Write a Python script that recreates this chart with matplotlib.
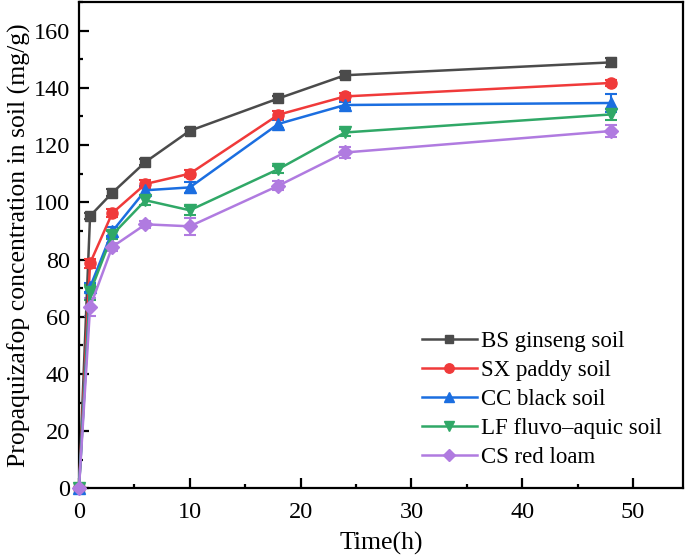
import matplotlib
matplotlib.use("Agg")
import matplotlib.pyplot as plt
from matplotlib.ticker import MultipleLocator

plt.rcParams['font.family'] = ['Liberation Serif', 'DejaVu Serif']
plt.rcParams['mathtext.fontset'] = 'stix'

time_h = [0, 1, 3, 6, 10, 18, 24, 48]

# concentrations (mg/g) and standard errors
bs_vals = [0, 95.2, 103.3, 114.1, 125.0, 136.3, 144.4, 148.9]
bs_err = [0, 1.2, 1.2, 1.0, 1.0, 1.0, 1.0, 1.5]
sx_vals = [0, 78.7, 96.2, 106.4, 110.0, 130.6, 137.0, 141.7]
sx_err = [0, 1.5, 1.3, 1.3, 1.2, 1.3, 1.2, 1.0]
cc_vals = [0, 70.3, 89.8, 104.2, 105.2, 127.4, 134.0, 134.7]
cc_err = [0, 1.5, 1.5, 1.5, 2.0, 1.5, 1.2, 3.0]
lf_vals = [0, 68.5, 88.6, 100.7, 97.2, 111.6, 124.4, 130.7]
lf_err = [0, 2.5, 1.5, 1.5, 1.5, 1.2, 1.3, 2.0]
cs_vals = [0, 63.4, 84.4, 92.3, 91.6, 105.8, 117.4, 124.9]
cs_err = [0, 3.0, 1.5, 1.2, 3.0, 1.5, 2.0, 2.0]

labels = ['BS ginseng soil', 'SX paddy soil', 'CC black soil',
          'LF fluvo\u2013aquic soil', 'CS red loam']
series = [bs_vals, sx_vals, cc_vals, lf_vals, cs_vals]
errors = [bs_err, sx_err, cc_err, lf_err, cs_err]
colors = ['#4b4b4b', '#f03a3a', '#1b6ee0', '#30a867', '#b07be0']
markers = ['s', 'o', '^', 'v', 'D']
msizes = [7.5, 8, 8.5, 8.5, 7]

fig = plt.figure(figsize=(6.85, 5.56), dpi=100)
ax = fig.add_axes([0.1153, 0.1216, 0.8817, 0.8748])

for vals, err, c, m, ms, lab in zip(series, errors, colors, markers, msizes, labels):
    # error bars first, line + markers on top (legend uses the line only)
    ax.errorbar(time_h, vals, yerr=err, fmt='none', ecolor=c,
                elinewidth=1.5, capsize=4, capthick=1.5, clip_on=False)
    ax.plot(time_h, vals, color=c, marker=m, markersize=ms,
            linewidth=1.8, label=lab, clip_on=False, zorder=3)

ax.set_xlim(0, 54.5)
ax.set_ylim(0, 170)
ax.xaxis.set_major_locator(MultipleLocator(10))
ax.xaxis.set_minor_locator(MultipleLocator(5))
ax.yaxis.set_major_locator(MultipleLocator(20))
ax.yaxis.set_minor_locator(MultipleLocator(10))
ax.tick_params(which='both', direction='in', width=1.6, labelsize=17.5)
ax.tick_params(which='major', length=7)
ax.tick_params(which='minor', length=3.2)
ax.tick_params(axis='x', which='major', pad=10)
ax.tick_params(axis='y', which='major', pad=6.5)
for sp in ax.spines.values():
    sp.set_linewidth(1.6)

ax.set_xlabel('Time(h)', fontsize=18.5, labelpad=6)
ax.set_ylabel('Propaquizafop concentration in soil (mg/g)', fontsize=18.5, labelpad=2)

leg = ax.legend(loc='lower right', frameon=False, fontsize=16.5,
                handlelength=2.4, handletextpad=0.2, labelspacing=0.34,
                markerscale=0.85, bbox_to_anchor=(1.0, 0.0))

fig.savefig('out.png', dpi=100)
